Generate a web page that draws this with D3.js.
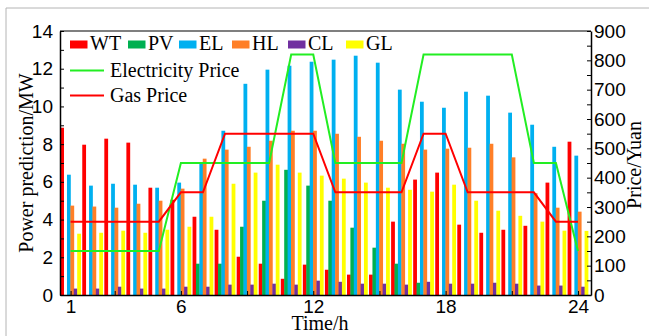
<!DOCTYPE html>
<html>
<head>
<meta charset="utf-8">
<script src="https://cdn.jsdelivr.net/npm/d3@7/dist/d3.min.js"></script>
<style>
  body { margin: 0; background: #fff; }
  svg { display: block; font-family: "Liberation Serif", "Times New Roman", serif; }
  .tick text { font-size: 19px; fill: #000; }
</style>
</head>
<body>
<svg id="chart" width="649" height="336"></svg>
<script>
const hours = d3.range(1, 25);
const seriesNames = ["WT", "PV", "EL", "HL", "CL", "GL"];
const seriesColors = ["#ff0000", "#00b050", "#00b0f0", "#ff7f27", "#7030a0", "#ffff00"];

const wt = [8.87, 7.97, 8.29, 8.08, 5.69, 5.05, 4.15, 3.46, 2.03, 1.66, 0.86, 1.61, 1.34, 1.08, 1.08, 3.89, 6.12, 6.49, 3.73, 3.30, 3.46, 3.67, 5.96, 8.13];
const pv = [0, 0, 0, 0, 0, 0, 1.66, 1.66, 3.62, 5.0, 6.64, 5.8, 5.0, 3.57, 2.51, 1.66, 0.65, 0, 0, 0, 0, 0, 0, 0];
const el = [6.38, 5.8, 5.9, 5.85, 5.69, 5.96, 7.02, 8.71, 11.2, 11.95, 12.16, 12.37, 12.48, 12.69, 12.32, 10.89, 10.25, 9.93, 10.78, 10.57, 9.67, 9.03, 7.86, 7.39];
const hl = [4.74, 4.69, 4.63, 4.84, 5.0, 5.64, 7.23, 7.71, 7.86, 8.18, 8.71, 8.71, 8.55, 8.39, 8.18, 8.02, 7.71, 7.76, 7.81, 8.02, 7.3, 5.4, 4.63, 4.42];
const cl = [0.34, 0.34, 0.44, 0.34, 0.34, 0.44, 0.44, 0.55, 0.55, 0.6, 0.55, 0.76, 0.7, 0.6, 0.6, 0.55, 0.7, 0.6, 0.6, 0.65, 0.6, 0.5, 0.5, 0.44];
const gl = [3.25, 3.3, 3.41, 3.3, 3.46, 3.62, 4.15, 5.9, 6.49, 6.91, 6.49, 6.33, 6.17, 5.96, 5.69, 5.58, 5.48, 5.85, 5.0, 4.47, 4.2, 3.89, 3.41, 3.4];

const elecPrice = [150, 150, 150, 150, 150, 450, 450, 450, 450, 450, 820, 820, 450, 450, 450, 450, 820, 820, 820, 820, 820, 450, 450, 150];
const gasPrice = [250, 250, 250, 250, 250, 350, 350, 550, 550, 550, 550, 550, 350, 350, 350, 350, 550, 550, 350, 350, 350, 350, 250, 250];

const xTicks = [1, 3, 6, 9, 12, 15, 18, 21, 24];
const xLabels = [1, 6, 12, 18, 24];

const series = [wt, pv, el, hl, cl, gl];

const svg = d3.select("#chart");
const plotLeft = 60, plotRight = 591, plotTop = 31, plotBottom = 295;

const x = d3.scaleLinear().domain([0.52, 24.59]).range([plotLeft, plotRight]);
const y = d3.scaleLinear().domain([0, 14]).range([plotBottom, plotTop]);
const yPrice = d3.scaleLinear().domain([0, 900]).range([plotBottom, plotTop]);

// light frame around the figure
svg.append("path")
  .attr("d", "M6,336V8H649")
  .attr("fill", "none")
  .attr("stroke", "#b4b4b4")
  .attr("stroke-width", 1);

// bars
const step = 0.154, bw = 0.172;
series.forEach((vals, i) => {
  const off = (i - 2.5) * step;
  svg.append("g")
    .selectAll("rect")
    .data(hours)
    .enter()
    .append("rect")
    .attr("x", h => x(h + off - bw / 2))
    .attr("width", h => x(h + off + bw / 2) - x(h + off - bw / 2))
    .attr("y", (h, j) => y(vals[j]))
    .attr("height", (h, j) => plotBottom - y(vals[j]))
    .attr("fill", seriesColors[i]);
});

// price lines
const line = d3.line()
  .x((d, j) => x(hours[j]))
  .y(d => yPrice(d));

svg.append("path")
  .datum(elecPrice)
  .attr("d", line)
  .attr("fill", "none")
  .attr("stroke", "#22ee22")
  .attr("stroke-width", 2);

svg.append("path")
  .datum(gasPrice)
  .attr("d", line)
  .attr("fill", "none")
  .attr("stroke", "#ff0000")
  .attr("stroke-width", 2);

// top box line
svg.append("line")
  .attr("x1", plotLeft).attr("x2", plotRight)
  .attr("y1", plotTop).attr("y2", plotTop)
  .attr("stroke", "#555").attr("stroke-width", 1.5);

// axes
svg.append("g")
  .attr("transform", "translate(" + plotLeft + ",0)")
  .call(d3.axisLeft(y)
    .tickValues(d3.range(0, 15))
    .tickFormat(d => d % 2 === 0 ? d : "")
    .tickSizeInner(-4).tickSizeOuter(0).tickPadding(7));

svg.append("g")
  .attr("transform", "translate(" + plotRight + ",0)")
  .call(d3.axisRight(yPrice)
    .tickValues(d3.range(0, 901, 50))
    .tickFormat(d => d % 100 === 0 ? d : "")
    .tickSizeInner(-4).tickSizeOuter(0).tickPadding(3));

svg.append("g")
  .attr("transform", "translate(0," + plotBottom + ")")
  .call(d3.axisBottom(x)
    .tickValues(xTicks)
    .tickFormat(d => xLabels.includes(d) ? d : "")
    .tickSizeInner(-4).tickSizeOuter(0).tickPadding(5));

svg.selectAll(".domain").attr("stroke", "#000").attr("stroke-width", 1.5);
svg.selectAll(".tick line").attr("stroke", "#000");

// axis titles
svg.append("text")
  .attr("transform", "translate(33,163) rotate(-90)")
  .attr("text-anchor", "middle")
  .style("font-size", "20px")
  .text("Power prediction/MW");

svg.append("text")
  .attr("transform", "translate(641,165) rotate(-90)")
  .attr("text-anchor", "middle")
  .style("font-size", "20px")
  .text("Price/Yuan");

svg.append("text")
  .attr("x", 320).attr("y", 330)
  .attr("text-anchor", "middle")
  .style("font-size", "20px")
  .text("Time/h");

// legend
const legendX = [70, 128, 179, 232, 288, 346];
const lg = svg.append("g");
seriesNames.forEach((name, i) => {
  lg.append("rect")
    .attr("x", legendX[i]).attr("y", 40.5)
    .attr("width", 17.5).attr("height", 8)
    .attr("fill", seriesColors[i]);
  lg.append("text")
    .attr("x", legendX[i] + 20).attr("y", 50)
    .style("font-size", "20px")
    .text(name);
});

const lineLegend = [
  {name: "Electricity Price", color: "#22ee22", y: 70.5},
  {name: "Gas Price", color: "#ff0000", y: 95.5}
];
lineLegend.forEach(d => {
  lg.append("line")
    .attr("x1", 70).attr("x2", 104)
    .attr("y1", d.y).attr("y2", d.y)
    .attr("stroke", d.color).attr("stroke-width", 2);
  lg.append("text")
    .attr("x", 110).attr("y", d.y + 6)
    .style("font-size", "20px")
    .text(d.name);
});
</script>
</body>
</html>
